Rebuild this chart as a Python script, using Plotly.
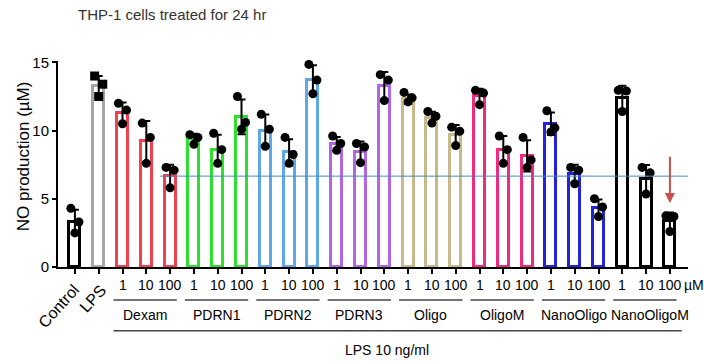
import plotly.graph_objects as go

# ---------------- data ----------------
bar_labels = ["Control", "LPS",
              "1", "10", "100", "1", "10", "100", "1", "10", "100",
              "1", "10", "100", "1", "10", "100", "1", "10", "100",
              "1", "10", "100", "1", "10", "100"]
groups = ["Dexam", "PDRN1", "PDRN2", "PDRN3", "Oligo", "OligoM", "NanoOligo", "NanoOligoM"]
group_colors = ["#f2404f", "#2ee02e", "#5ea8ea", "#b266e6", "#c8b98a", "#f02a7c", "#2222e0", "#000000"]

means = [3.3, 13.25, 11.3, 9.2, 6.7, 9.4, 8.6, 11.0, 10.0, 8.4, 13.7,
         9.0, 8.45, 13.3, 12.3, 10.95, 9.7, 12.5, 8.6, 8.15,
         10.5, 6.85, 4.3, 12.4, 6.45, 3.35]
sds = [0.9, 0.75, 0.76, 1.5, 0.8, 0.36, 1.1, 1.27, 1.18, 0.96, 1.08,
       0.52, 0.75, 1.0, 0.35, 0.43, 0.7, 0.56, 1.0, 1.15,
       0.82, 0.64, 0.65, 0.88, 1.03, 0.65]
rep1 = [4.3, 14.0, 12.0, 10.55, 7.3, 9.7, 9.8, 12.5, 11.2, 9.5, 14.85,
        9.6, 9.05, 14.1, 12.8, 11.4, 10.25, 12.95, 9.6, 9.5,
        11.45, 7.3, 5.0, 12.95, 7.3, 3.75]
rep2 = [3.3, 13.4, 11.5, 9.5, 7.1, 9.5, 8.6, 10.6, 10.1, 8.25, 13.7,
        9.05, 8.8, 13.7, 12.4, 11.05, 9.95, 12.75, 8.6, 7.85,
        10.2, 7.1, 4.4, 12.9, 6.9, 3.7]
rep3 = [2.5, 12.5, 10.5, 7.6, 5.8, 9.0, 7.6, 10.1, 8.85, 7.6, 12.7,
        8.55, 7.65, 12.2, 12.1, 10.55, 8.9, 11.9, 7.6, 7.3,
        9.9, 6.1, 3.7, 11.4, 5.35, 2.6]
ref_level = 6.66
y_ticks = [0, 5, 10, 15]

# ---------------- styling ----------------
bar_colors = ["#000000", "#a6a6a6"] + [c for c in group_colors for _ in range(3)]
xs = list(range(len(means)))
jitter = [-0.17, 0.17, 0.0]
FONT = "Liberation Sans, Arial, sans-serif"

fig = go.Figure()
fig.add_trace(go.Bar(
    x=xs, y=means, width=0.46,
    marker=dict(color="white", line=dict(color=bar_colors, width=3)),
    error_y=dict(type="data", array=sds, color="black", thickness=2, width=4),
    showlegend=False, hoverinfo="skip",
))

dot_x, dot_y, dot_sym = [], [], []
for i in xs:
    for j, rep in enumerate([rep1, rep2, rep3]):
        dot_x.append(i + jitter[j])
        dot_y.append(rep[i])
        dot_sym.append("square" if i == 1 else "circle")
fig.add_trace(go.Scatter(
    x=dot_x, y=dot_y, mode="markers",
    marker=dict(color="black", size=9, symbol=dot_sym),
    cliponaxis=False, showlegend=False, hoverinfo="skip",
))


def label(x, y, text, size=14, **kw):
    d = dict(x=x, y=y, xref="x", yref="paper", text=text, showarrow=False,
             xanchor="center", yanchor="middle",
             font=dict(size=size, color="black", family=FONT))
    d.update(kw)
    return d


shapes = [dict(type="line", xref="x", yref="y", x0=3.57, x1=25.76,
               y0=ref_level, y1=ref_level, line=dict(color="#4a86c0", width=1))]
annotations = []
for i in xs[2:]:
    annotations.append(label(i, -0.087, bar_labels[i]))
annotations.append(label(0, -0.189, bar_labels[0], size=16, xshift=-15.5, textangle=-48))
annotations.append(label(1, -0.155, bar_labels[1], size=16, xshift=-5.5, textangle=-48))
annotations.append(label(25, -0.087, "µM", xshift=24))
for g, name in enumerate(groups):
    first = 2 + 3 * g
    shapes.append(dict(type="line", xref="x", yref="paper", x0=first - 0.38, x1=first + 2.28,
                       y0=-0.16, y1=-0.16, line=dict(color="#444", width=1.5)))
    annotations.append(label(first + 1 - 0.05 + (0.2 if g == 7 else 0), -0.233, name))
shapes.append(dict(type="line", xref="x", yref="paper", x0=1.62, x1=25.5,
                   y0=-0.31, y1=-0.31, line=dict(color="#444", width=1.5)))
annotations.append(label(13.1, -0.402, "LPS 10 ng/ml"))
# y-axis title
annotations.append(dict(x=0, xref="paper", xshift=-35, y=0.538, yref="paper",
                        text="NO production (µM)", textangle=-90, showarrow=False,
                        xanchor="center", yanchor="middle",
                        font=dict(size=17, color="black", family=FONT)))
# red arrow
annotations.append(dict(x=25, y=4.7, xref="x", yref="y", ax=25, ay=8.2, axref="x", ayref="y",
                        showarrow=True, arrowhead=2, arrowsize=1, arrowwidth=2,
                        arrowcolor="#c8504a", text=""))

fig.update_layout(
    width=704, height=361,
    margin=dict(l=58, r=16, t=61, b=94),
    plot_bgcolor="white", paper_bgcolor="white",
    bargap=0, hovermode=False,
    title=dict(text="THP-1 cells treated for 24 hr", x=78 / 704, xanchor="left",
               xref="container", y=1 - 15 / 361, yanchor="middle",
               font=dict(size=15, color="#333", family=FONT)),
    xaxis=dict(range=[-0.71, 25.76], tickvals=xs, showticklabels=False,
               ticks="outside", ticklen=5, tickwidth=1.5, tickcolor="black",
               showline=True, linecolor="black", linewidth=2, showgrid=False, zeroline=False),
    yaxis=dict(range=[0, 15.1], tickvals=y_ticks, ticks="outside", ticklen=4, tickwidth=2,
               tickcolor="black", showline=True, linecolor="black", linewidth=2,
               showgrid=False, zeroline=False,
               tickfont=dict(size=15, color="black", family=FONT)),
    shapes=shapes, annotations=annotations,
)

fig.write_html("out.html", config={"displayModeBar": False},
               post_script="document.body.style.margin='0';")
